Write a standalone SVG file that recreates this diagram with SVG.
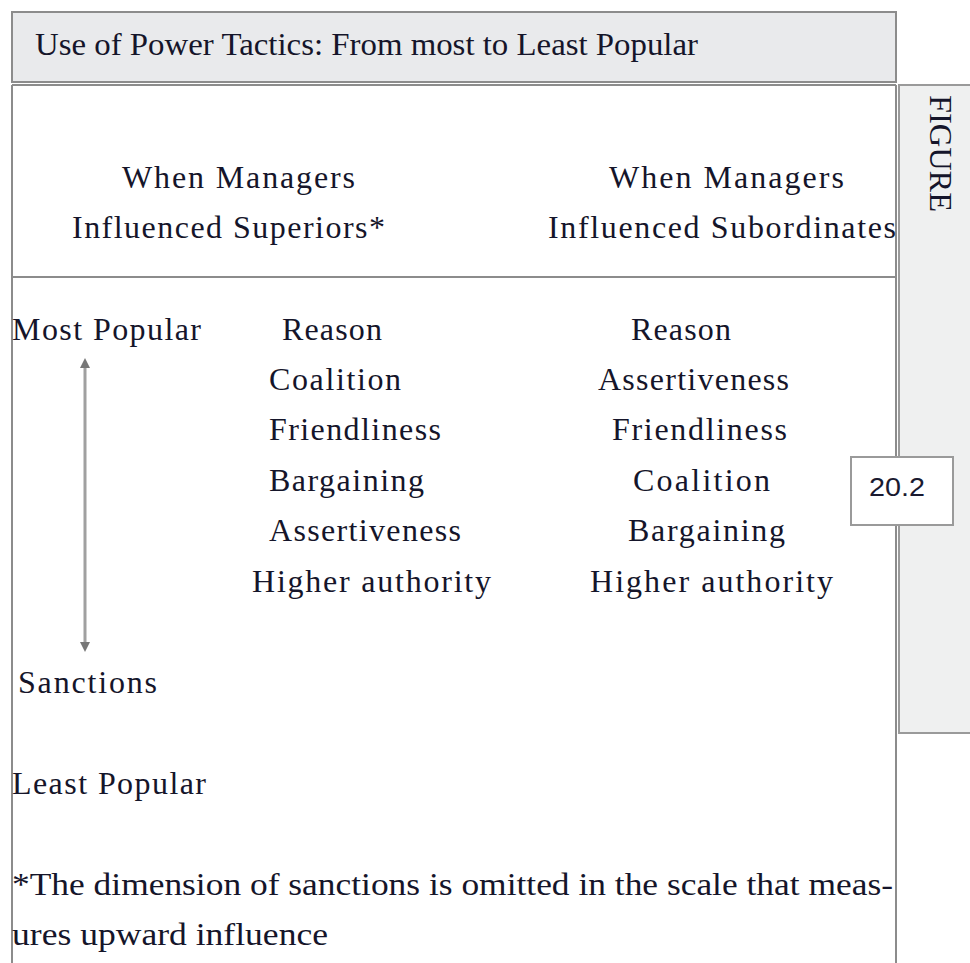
<svg xmlns="http://www.w3.org/2000/svg" width="970" height="963" viewBox="0 0 970 963">
<style>
.t{font-family:"Liberation Serif","DejaVu Serif",serif;font-size:32px;fill:#15152a}
.ln{stroke:#8c8c8c;stroke-width:2;fill:none}
</style>
<defs>
<marker id="ah" viewBox="0 0 10 10" refX="2" refY="5" markerWidth="12" markerHeight="10" orient="auto-start-reverse" markerUnits="userSpaceOnUse">
<path d="M0,0 L10,5 L0,10 z" fill="#777"/>
</marker>
</defs>
<rect width="970" height="963" fill="#fff"/>
<g id="side-panel">
<rect x="899" y="85" width="80" height="648" fill="#eff0f0" stroke="#9a9a9a" stroke-width="2"/>
<text class="t" transform="translate(930,95) rotate(90)" font-size="28" textLength="117" lengthAdjust="spacingAndGlyphs">FIGURE</text>
</g>
<g id="title">
<rect x="12" y="12" width="884" height="70" fill="#e9eaec" stroke="#8c8c8c" stroke-width="2"/>
<text class="t" x="35" y="55" font-size="28" textLength="663" lengthAdjust="spacingAndGlyphs">Use of Power Tactics: From most to Least Popular</text>
</g>
<g id="frame">
<path class="ln" d="M12,85 H896 M12,85 V963 M896,85 V963 M12,277 H896"/>
</g>
<g id="headers">
<text class="t" x="122" y="188" textLength="233" lengthAdjust="spacing">When Managers</text>
<text class="t" x="72" y="238" textLength="313" lengthAdjust="spacing">Influenced Superiors*</text>
<text class="t" x="609" y="188" textLength="235" lengthAdjust="spacing">When Managers</text>
<text class="t" x="548" y="238" textLength="348" lengthAdjust="spacing">Influenced Subordinates</text>
</g>
<g id="scale">
<text class="t" x="12" y="340" textLength="189" lengthAdjust="spacing">Most Popular</text>
<text class="t" x="18" y="693" textLength="139" lengthAdjust="spacing">Sanctions</text>
<text class="t" x="12" y="794" textLength="194" lengthAdjust="spacing">Least Popular</text>
</g>
<g id="connectors">
<line x1="85" y1="366" x2="85" y2="644" stroke="#a0a0a0" stroke-width="3" marker-start="url(#ah)" marker-end="url(#ah)"/>
</g>
<g id="superiors">
<text class="t" x="282" y="340" textLength="100" lengthAdjust="spacing">Reason</text>
<text class="t" x="269" y="390" textLength="132" lengthAdjust="spacing">Coalition</text>
<text class="t" x="269" y="440" textLength="172" lengthAdjust="spacing">Friendliness</text>
<text class="t" x="269" y="491" textLength="155" lengthAdjust="spacing">Bargaining</text>
<text class="t" x="269" y="541" textLength="192" lengthAdjust="spacing">Assertiveness</text>
<text class="t" x="252" y="592" textLength="239" lengthAdjust="spacing">Higher authority</text>
</g>
<g id="subordinates">
<text class="t" x="631" y="340" textLength="100" lengthAdjust="spacing">Reason</text>
<text class="t" x="598" y="390" textLength="191" lengthAdjust="spacing">Assertiveness</text>
<text class="t" x="612" y="440" textLength="175" lengthAdjust="spacing">Friendliness</text>
<text class="t" x="633" y="491" textLength="137" lengthAdjust="spacing">Coalition</text>
<text class="t" x="628" y="541" textLength="157" lengthAdjust="spacing">Bargaining</text>
<text class="t" x="590" y="592" textLength="243" lengthAdjust="spacing">Higher authority</text>
</g>
<g id="footnote">
<text class="t" x="12" y="895" font-size="29" textLength="881" lengthAdjust="spacingAndGlyphs">*The dimension of sanctions is omitted in the scale that meas-</text>
<text class="t" x="12" y="945" font-size="29" textLength="316" lengthAdjust="spacingAndGlyphs">ures upward influence</text>
</g>
<g id="figure-number">
<rect x="851" y="457" width="102" height="68" fill="#fff" stroke="#9a9a9a" stroke-width="2"/>
<text x="869" y="496" font-family="Liberation Sans, Arial, sans-serif" font-size="25" fill="#1a1a30" textLength="56" lengthAdjust="spacingAndGlyphs">20.2</text>
</g>
</svg>
